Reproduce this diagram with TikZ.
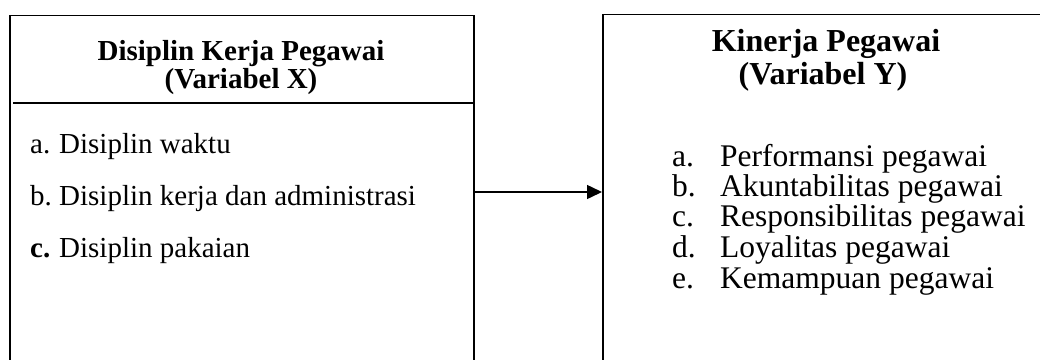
\documentclass[tikz,border=0pt]{standalone}
\usepackage{fontspec}
\setmainfont{Liberation Serif}
\usetikzlibrary{arrows.meta}
\begin{document}
\begin{tikzpicture}[x=1pt,y=-1pt,
  frame/.style={draw, line width=1.6pt, rectangle, inner sep=0pt, anchor=north west},
  lhead/.style={anchor=base, inner sep=0pt, font=\fontsize{29}{34}\selectfont\bfseries},
  rhead/.style={anchor=base, inner sep=0pt, font=\fontsize{32}{38}\selectfont\bfseries},
  litem/.style={anchor=base west, inner sep=0pt, font=\fontsize{29}{34}\selectfont},
  ritem/.style={anchor=base west, inner sep=0pt, font=\fontsize{31.5}{36}\selectfont},
  link/.style={line width=1.5pt, -{Triangle[length=15pt,width=14pt]}}]
\useasboundingbox (0,0) rectangle (1040,359);
\clip (0,0) rectangle (1040,359);

% the two frames run past the lower (and right) edge
\node[frame, minimum width=464pt, minimum height=420pt] (lbox) at (9,14.5) {};
\node[frame, minimum width=520pt, minimum height=420pt] (rbox) at (602,13.5) {};

% left frame: heading, rule, list
\node[lhead] (lh1) at (241,60) {Disiplin Kerja Pegawai};
\node[lhead] (lh2) at (241,88) {(Variabel X)};
\coordinate (rule) at (13,103);
\draw[line width=1.5pt] (rule) -- (lbox.east |- rule);

\node[litem] (la) at (30,153) {a.};
\node[litem] (lat) at (59,153) {Disiplin waktu};
\node[litem] (lb) at (30,205) {b.};
\node[litem] (lbt) at (59,205) {Disiplin kerja dan administrasi};
\node[litem, font=\fontsize{29}{34}\selectfont\bfseries] (lc) at (30,257) {c.};
\node[litem] (lct) at (59,257) {Disiplin pakaian};

% right frame: heading and list
\node[rhead] (rh1) at (826,51) {Kinerja Pegawai};
\node[rhead] (rh2) at (823,84) {(Variabel Y)};

\node[ritem] (ra) at (672,166) {a.};
\node[ritem] (rat) at (720,166) {Performansi pegawai};
\node[ritem] (rb) at (672,196) {b.};
\node[ritem] (rbt) at (720,196) {Akuntabilitas pegawai};
\node[ritem] (rc) at (672,226) {c.};
\node[ritem] (rct) at (720,226) {Responsibilitas pegawai};
\node[ritem] (rd) at (672,257) {d.};
\node[ritem] (rdt) at (720,257) {Loyalitas pegawai};
\node[ritem] (re) at (672,288) {e.};
\node[ritem] (ret) at (720,288) {Kemampuan pegawai};

% connector between the frames
\coordinate (ay) at (0,192);
\draw[link] (lbox.east |- ay) -- (rbox.west |- ay);
\end{tikzpicture}
\end{document}
